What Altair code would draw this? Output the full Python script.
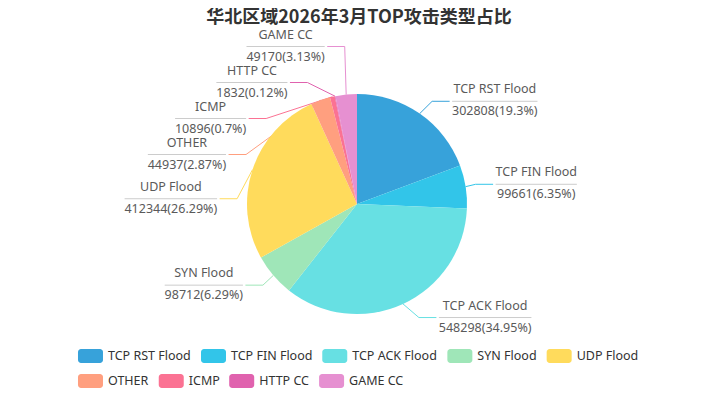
import math
import altair as alt
import pandas as pd

# ---------------- data ----------------
categories = ["TCP RST Flood", "TCP FIN Flood", "TCP ACK Flood", "SYN Flood", "UDP Flood",
              "OTHER", "ICMP", "HTTP CC", "GAME CC"]
values = [302808, 99661, 548298, 98712, 412344, 44937, 10896, 1832, 49170]
colors = ["#37A2DA", "#32C5E9", "#67E0E3", "#9FE6B8", "#FFDB5C",
          "#ff9f7f", "#fb7293", "#E062AE", "#E690D1"]
title_text = "华北区域2026年3月TOP攻击类型占比"

# ---------------- layout constants (chart pixel coords) ----------------
CW, CH = 707, 380
CX, CY, R = 349.0, 196.0, 110.0
LEN, LEN2, LABEL_DIST, LABEL_H = 15.0, 15.0, 2.5, 36.0
FONT = "Noto Sans"
FS = 12.5
TEXT_COLOR = "#5a5a5a"
LEG_CENTER = 350.0

CHAR_W = {c: 0.572 for c in "0123456789"}
CHAR_W.update({"(": 0.296, ")": 0.296, ".": 0.268, "%": 0.821, " ": 0.26,
               "A": 0.639, "C": 0.632, "D": 0.705, "E": 0.556, "F": 0.532, "G": 0.723,
               "H": 0.752, "I": 0.294, "K": 0.619, "M": 0.907, "N": 0.757, "O": 0.779,
               "P": 0.603, "R": 0.618, "S": 0.549, "T": 0.556, "U": 0.733, "Y": 0.571,
               "d": 0.613, "l": 0.258, "o": 0.602})


def text_w(s, fs=FS):
    return sum(CHAR_W.get(c, 0.6) for c in s) * fs


# percentages (largest remainder, 2 decimals)
total = float(sum(values))
digits = 100
votes = [v / total * 100 * digits for v in values]
seats = [math.floor(x) for x in votes]
rem = [x - s for x, s in zip(votes, seats)]
while sum(seats) < 100 * digits:
    k = max(range(len(rem)), key=lambda i: rem[i])
    seats[k] += 1
    rem[k] = 0
pcts = [s / digits for s in seats]


def fmt(p):
    return f"{p:.2f}".rstrip("0").rstrip(".")


# ---------------- label layout (pie outside labels) ----------------
items = []
acc = 0.0
for i, (c, v) in enumerate(zip(categories, values)):
    a0 = acc / total * 2 * math.pi
    acc += v
    a1 = acc / total * 2 * math.pi
    m = (a0 + a1) / 2
    dx, dy = math.sin(m), -math.cos(m)
    x2 = CX + (R + LEN) * dx
    y2 = CY + (R + LEN) * dy
    side = -1 if dx < 0 else 1
    x3 = x2 + side * LEN2
    items.append(dict(name=c, idx=i, dx=dx, dy=dy, x=x3 + side * 5, y=y2, side=side,
                      vtext=f"{v}({fmt(pcts[i])}%)"))


def adjust_side(lst, direction):
    lst.sort(key=lambda it: it["y"])
    n = len(lst)

    def shift_up(end, delta):
        for j in range(end, -1, -1):
            if lst[j]["y"] - delta < -8:
                break
            lst[j]["y"] -= delta
            if j > 0 and lst[j]["y"] > lst[j - 1]["y"] + LABEL_H:
                break

    def shift_down(start, end, delta):
        for j in range(start, end):
            if lst[j]["y"] + delta > CH + 8:
                break
            lst[j]["y"] += delta
            if j > start and j + 1 < end and lst[j + 1]["y"] > lst[j]["y"] + LABEL_H:
                shift_up(j, delta / 2)
                return
        shift_up(end - 1, delta / 2)

    last_y = 0
    for i in range(n):
        d = lst[i]["y"] - last_y
        if d < 0:
            shift_down(i, n, -d)
        last_y = lst[i]["y"] + LABEL_H

    def change_x(sub, is_down):
        last = float("inf") if is_down else 0.0
        for it in sub:
            dyy = abs(it["y"] - CY)
            if dyy < R + LEN:
                dxx = math.sqrt((R + LEN + LEN2) ** 2 - dyy ** 2)
            else:
                dxx = abs(it["x"] - CX)
            if is_down and dxx >= last:
                dxx = last - 10
            if (not is_down) and dxx <= last:
                dxx = last + 10
            it["x"] = CX + dxx * direction
            last = dxx

    change_x([it for it in lst if it["y"] < CY], False)
    change_x([it for it in lst if it["y"] >= CY], True)


adjust_side([it for it in items if it["side"] > 0], 1)
adjust_side([it for it in items if it["side"] < 0], -1)

line_rows, lab_rows = [], []
for it in items:
    s = it["side"]
    p3x = it["x"] - s * LABEL_DIST
    p2x = it["x"] - s * (LABEL_DIST + 17.5)
    pts = [(CX + R * it["dx"], CY + R * it["dy"]), (p2x, it["y"]), (p3x, it["y"])]
    for k, (px, py) in enumerate(pts):
        line_rows.append(dict(name=it["name"], k=k, px=px, py=py))
    w = max(text_w(it["name"]), text_w(it["vtext"]))
    bx0 = it["x"] if s > 0 else it["x"] - w
    lab_rows.append(dict(name=it["name"], vtext=it["vtext"], ux1=bx0, ux2=bx0 + w,
                         uy=it["y"], tx=bx0 + w / 2, ny=it["y"] - 12, vy=it["y"] + 10))

lines_df = pd.DataFrame(line_rows)
labels_df = pd.DataFrame(lab_rows)
pie_df = pd.DataFrame({"name": categories, "value": values, "idx": list(range(len(values)))})

# ---------------- legend layout ----------------
SYM_W, SYM_H, SYM_GAP, ITEM_GAP, LEG_MAX_W = 25, 14, 5, 10, 600
rows, cur, curw = [], [], 0.0
for c in categories:
    iw = SYM_W + SYM_GAP + text_w(c)
    if cur and curw + ITEM_GAP + iw > LEG_MAX_W:
        rows.append((cur, curw))
        cur, curw = [], 0.0
    curw = iw if not cur else curw + ITEM_GAP + iw
    cur.append((c, iw))
rows.append((cur, curw))
box_w = max(w for _, w in rows)
left = LEG_CENTER - box_w / 2
leg_rows = []
for r_i, (row, _) in enumerate(rows):
    yc = 348 + 25 * r_i
    x = left
    for c, iw in row:
        leg_rows.append(dict(name=c, sx1=x, sx2=x + SYM_W, sy1=yc - SYM_H / 2, sy2=yc + SYM_H / 2,
                             tx=x + SYM_W + SYM_GAP, ty=yc))
        x += iw + ITEM_GAP
legend_df = pd.DataFrame(leg_rows)

color_scale = alt.Scale(domain=categories, range=colors)
col = alt.Color("name:N", scale=color_scale, legend=None)

leaders = alt.Chart(lines_df).mark_line(strokeWidth=1).encode(
    x=alt.X("px:Q", scale=None), y=alt.Y("py:Q", scale=None),
    color=col, order=alt.Order("k:Q"), detail="name:N")

pie = alt.Chart(pie_df).mark_arc(outerRadius=R, stroke=None).encode(
    theta=alt.Theta("value:Q", stack=True),
    color=col, order=alt.Order("idx:Q"),
    x=alt.value(CX), y=alt.value(CY))

underline = alt.Chart(labels_df).mark_rule(color="#cccccc", strokeWidth=1).encode(
    x=alt.X("ux1:Q", scale=None), x2="ux2:Q", y=alt.Y("uy:Q", scale=None))

names = alt.Chart(labels_df).mark_text(font=FONT, fontSize=FS, color=TEXT_COLOR,
                                       align="center", baseline="middle").encode(
    x=alt.X("tx:Q", scale=None), y=alt.Y("ny:Q", scale=None), text="name:N")

vals_t = alt.Chart(labels_df).mark_text(font=FONT, fontSize=FS, color=TEXT_COLOR,
                                        align="center", baseline="middle").encode(
    x=alt.X("tx:Q", scale=None), y=alt.Y("vy:Q", scale=None), text="vtext:N")

leg_sym = alt.Chart(legend_df).mark_rect(cornerRadius=3).encode(
    x=alt.X("sx1:Q", scale=None), x2="sx2:Q",
    y=alt.Y("sy1:Q", scale=None), y2="sy2:Q", color=col)

leg_txt = alt.Chart(legend_df).mark_text(font=FONT, fontSize=FS, color="#333333",
                                         align="left", baseline="middle").encode(
    x=alt.X("tx:Q", scale=None), y=alt.Y("ty:Q", scale=None), text="name:N")

title = alt.Chart(pd.DataFrame({"t": [title_text]})).mark_text(
    font="Noto Sans CJK SC", fontSize=18, fontWeight="bold", color="#333333",
    align="center", baseline="middle").encode(
    x=alt.value(351), y=alt.value(9.5), text="t:N")

chart = alt.layer(leaders, pie, underline, names, vals_t, leg_sym, leg_txt, title).properties(
    width=CW, height=CH, autosize="none", padding=0
).configure_view(stroke=None)

chart.save("out.html", embed_options={"renderer": "svg", "actions": False})
